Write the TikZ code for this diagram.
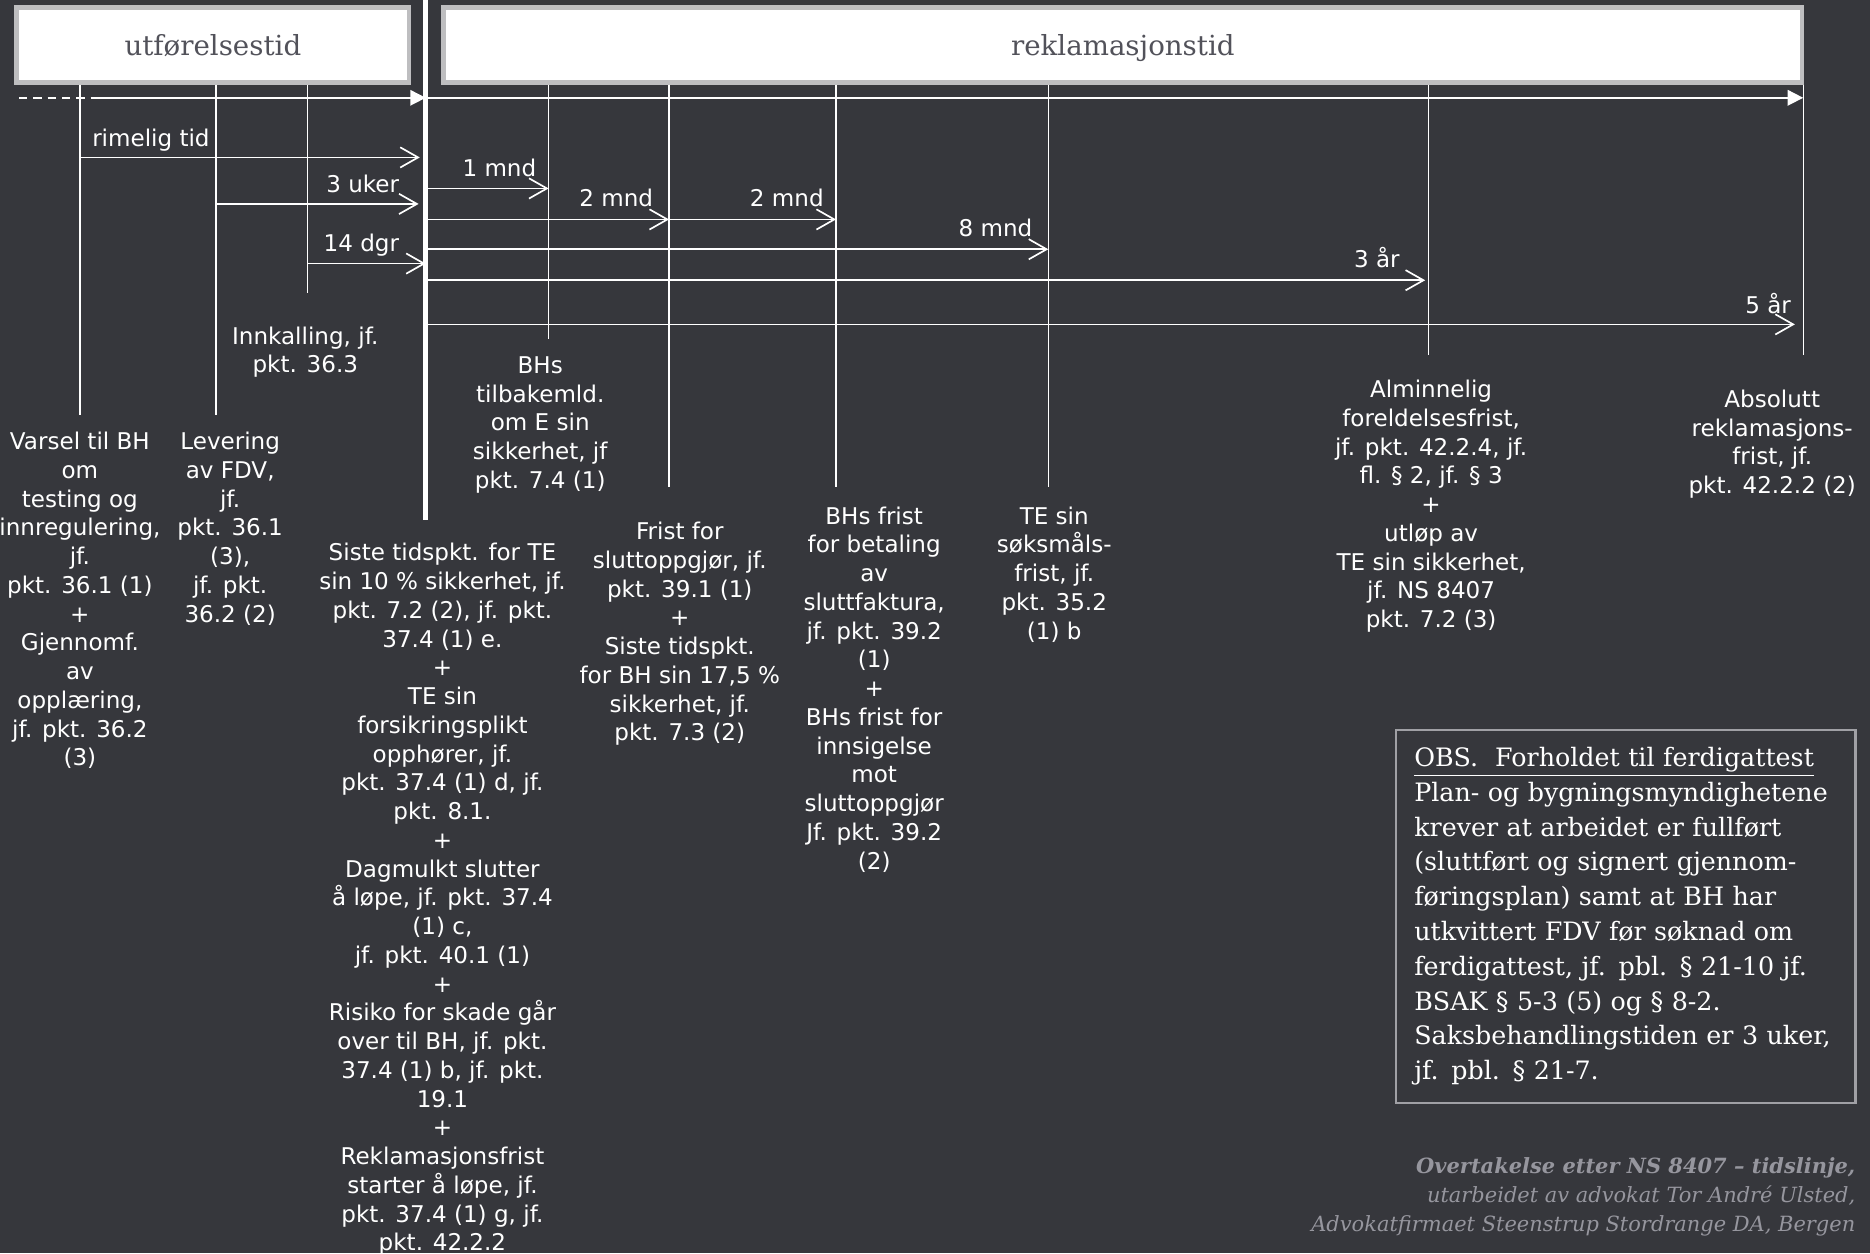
\documentclass[tikz,border=0pt]{standalone}
\usepackage{fontspec}
\setmainfont{DejaVu Serif}
\setsansfont{DejaVu Sans}
\usetikzlibrary{arrows.meta}
\definecolor{bgdark}{RGB}{54,55,60}
\definecolor{hdrgray}{RGB}{190,190,192}
\definecolor{hdrtext}{RGB}{82,82,90}
\definecolor{obsgray}{RGB}{160,160,165}
\definecolor{footgray}{RGB}{150,150,158}

\begin{document}
\begin{tikzpicture}[x=0.02cm, y=-0.02cm,
    hdr/.style={draw=hdrgray, line width=0.08cm, fill=white, text=hdrtext,
      font=\fontsize{13.2}{16}\selectfont, text depth=0pt, inner sep=0pt},
    lbl/.style={text=white, font=\sffamily\fontsize{11}{13.72}\selectfont,
      inner sep=0pt, align=center, anchor=base},
    tick/.style={white, line width=0.7pt},
    span/.style={white, line width=0.8pt, -{Straight Barb[length=0.3cm, width=0.34cm]}},
    axis/.style={white, line width=0.8pt, -{Triangle[length=0.26cm, width=0.26cm]}}]

    % background, page size
    \fill[bgdark] (0,0) rectangle (1568,1051);
    \useasboundingbox (0,0) rectangle (1568,1051);

    % headers
    \node[hdr, minimum width=6.58cm, minimum height=1.26cm] (utf) at (178.5,37.5) {utførelsestid};
    \node[hdr, minimum width=22.78cm, minimum height=1.26cm] (rekl) at (941.5,37.5) {reklamasjonstid};

    % points in time
    \coordinate (varsel) at (67,71);
    \coordinate (fdv) at (181,71);
    \coordinate (innk) at (258,71);
    \coordinate (overt) at (357,0);
    \coordinate (tilbake) at (460,71);
    \coordinate (sluttopp) at (561,71);
    \coordinate (betaling) at (701,71);
    \coordinate (soksmaal) at (879,71);
    \coordinate (foreld) at (1198,71);
    \coordinate (absolutt) at (1512,71);

    \draw[tick] (varsel) -- (varsel |- 0,348);
    \draw[tick] (fdv) -- (fdv |- 0,348);
    \draw[tick] (innk) -- (innk |- 0,246);
    \draw[tick] (tilbake) -- (tilbake |- 0,284);
    \draw[tick] (sluttopp) -- (sluttopp |- 0,408);
    \draw[tick] (betaling) -- (betaling |- 0,408);
    \draw[tick] (soksmaal) -- (soksmaal |- 0,408);
    \draw[tick] (foreld) -- (foreld |- 0,298);
    \draw[tick] (absolutt) -- (absolutt |- 0,298);

    % main time line
    \coordinate (start) at (16,82);
    \draw[white, line width=0.8pt, dash pattern=on 0.14cm off 0.1cm] (start) -- (92,82);
    \draw[axis] (78,82) -- (overt |- 0,82);
    \draw[axis] (overt |- 0,82) -- (absolutt |- 0,82);
    \draw[white, line width=0.08cm] (overt) -- (overt |- 0,436);

    % periods
    \draw[span, shorten >=0.1cm] (varsel |- 0,132) -- (overt |- 0,132);
    \draw[span, shorten >=0.12cm] (fdv |- 0,171) -- (overt |- 0,171);
    \draw[span] (innk |- 0,221) -- (overt |- 0,221);
    \draw[span] (overt |- 0,158) -- (tilbake |- 0,158);
    \draw[span] (overt |- 0,184) -- (sluttopp |- 0,184);
    \draw[span] (sluttopp |- 0,184) -- (betaling |- 0,184);
    \draw[span] (overt |- 0,209) -- (soksmaal |- 0,209);
    \draw[span, shorten >=0.06cm] (overt |- 0,235) -- (foreld |- 0,235);
    \draw[span, shorten >=0.14cm] (overt |- 0,272) -- (absolutt |- 0,272);

    \node[lbl, anchor=base west] (rimelig) at (77,123) {rimelig tid};
    \node[lbl, anchor=base east] (uker) at (335,161) {3 uker};
    \node[lbl, anchor=base east] (dgr) at (335,211) {14 dgr};
    \node[lbl, anchor=base east] (mndA) at (450,148) {1 mnd};
    \node[lbl, anchor=base east] (mndB) at (548,173.5) {2 mnd};
    \node[lbl, anchor=base east] (mndC) at (691,173.5) {2 mnd};
    \node[lbl, anchor=base east] (mndD) at (866,198.5) {8 mnd};
    \node[lbl, anchor=base east] (aarA) at (1174,224) {3 år};
    \node[lbl, anchor=base east] (aarB) at (1502,262.5) {5 år};

    % texts under the time line (placed by the baseline of their last line)
    \node[lbl] (varseltxt) at (67,642.1) {Varsel til BH\\om\\testing og\\innregulering,\\jf.\\pkt. 36.1 (1)\\+\\Gjennomf.\\av\\opplæring,\\jf. pkt. 36.2\\(3)};
    \node[lbl] (fdvtxt) at (193,521.6) {Levering\\av FDV,\\jf.\\pkt. 36.1\\(3),\\jf. pkt.\\36.2 (2)};
    \node[lbl] (innktxt) at (256,312.6) {Innkalling, jf.\\pkt. 36.3};
    \node[lbl] (tilbaketxt) at (453,409.4) {BHs\\tilbakemld.\\om E sin\\sikkerhet, jf\\pkt. 7.4 (1)};
    \node[lbl] (overttxt) at (371,1048.9) {Siste tidspkt. for TE\\sin 10 \% sikkerhet, jf.\\pkt. 7.2 (2), jf. pkt.\\37.4 (1) e.\\+\\TE sin\\forsikringsplikt\\opphører, jf.\\pkt. 37.4 (1) d, jf.\\pkt. 8.1.\\+\\Dagmulkt slutter\\å løpe, jf. pkt. 37.4\\(1) c,\\jf. pkt. 40.1 (1)\\+\\Risiko for skade går\\over til BH, jf. pkt.\\37.4 (1) b, jf. pkt.\\19.1\\+\\Reklamasjonsfrist\\starter å løpe, jf.\\pkt. 37.4 (1) g, jf.\\pkt. 42.2.2};
    \node[lbl] (sluttopptxt) at (570,621.2) {Frist for\\sluttoppgjør, jf.\\pkt. 39.1 (1)\\+\\Siste tidspkt.\\for BH sin 17,5 \%\\sikkerhet, jf.\\pkt. 7.3 (2)};
    \node[lbl] (betalingtxt) at (733,728.7) {BHs frist\\for betaling\\av\\sluttfaktura,\\jf. pkt. 39.2\\(1)\\+\\BHs frist for\\innsigelse\\mot\\sluttoppgjør\\Jf. pkt. 39.2\\(2)};
    \node[lbl] (soksmaaltxt) at (884,535.9) {TE sin\\søksmåls-\\frist, jf.\\pkt. 35.2\\(1) b};
    \node[lbl] (foreldtxt) at (1200,526.3) {Alminnelig\\foreldelsesfrist,\\jf. pkt. 42.2.4, jf.\\fl. § 2, jf. § 3\\+\\utløp av\\TE sin sikkerhet,\\jf. NS 8407\\pkt. 7.2 (3)};
    \node[lbl] (absoluttxt) at (1486,413.8) {Absolutt\\reklamasjons-\\frist, jf.\\pkt. 42.2.2 (2)};

    % note box
    \node[draw=obsgray, line width=0.035cm, anchor=north west, text=white, align=left,
      text width=7.1cm, inner xsep=0.3cm, inner ysep=0pt, minimum height=6.26cm,
      font=\fontsize{12.1}{16.6}\selectfont] (obs) at (1170,611)
      {\underline{OBS.\ \ Forholdet til ferdigattest}\\Plan- og bygningsmyndighetene\\krever at arbeidet er fullført\\(sluttført og signert gjennom-\\føringsplan) samt at BH har\\utkvittert FDV før søknad om\\ferdigattest, jf. pbl. § 21-10 jf.\\BSAK § 5-3 (5) og § 8-2.\\Saksbehandlingstiden er 3 uker,\\jf. pbl. § 21-7.};

    % credit
    \node[anchor=base east, align=right, text=footgray, inner sep=0pt,
      font=\itshape\fontsize{10}{14}\selectfont] (credit) at (1556,1032.9)
      {\textbf{Overtakelse etter NS 8407 – tidslinje,}\\utarbeidet av advokat Tor André Ulsted,\\Advokatfirmaet Steenstrup Stordrange DA, Bergen};

\end{tikzpicture}
\end{document}
